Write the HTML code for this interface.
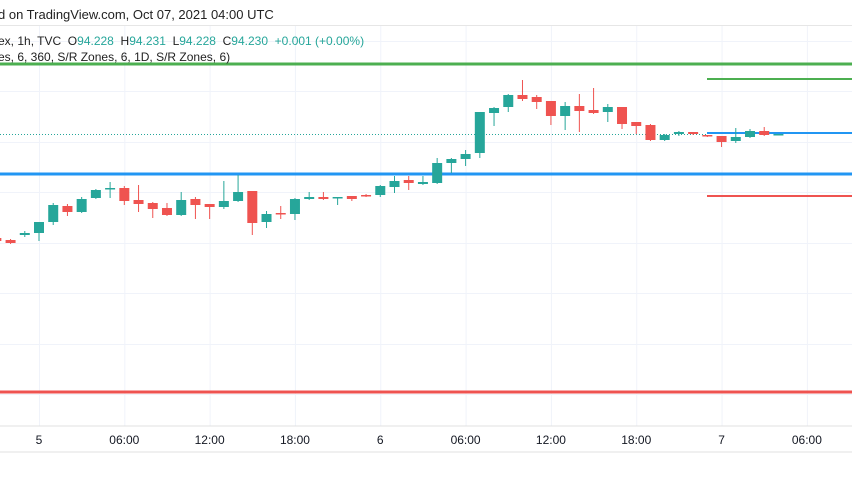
<!DOCTYPE html>
<html><head><meta charset="utf-8"><style>
html,body{margin:0;padding:0;background:#fff;width:852px;height:485px;overflow:hidden;font-family:"Liberation Sans",sans-serif;}
svg{position:absolute;left:0;top:0}
</style></head><body>
<svg id="chart" width="852" height="485" xmlns="http://www.w3.org/2000/svg">
<rect x="0" y="0" width="852" height="485" fill="#fff"/>
<text x="-2" y="19" font-size="13" fill="#222">d on TradingView.com, Oct 07, 2021 04:00 UTC</text>
<line x1="0" y1="25.5" x2="852" y2="25.5" stroke="#e6e6e6"/>
<g id="grid"></g>
<g id="levels"></g>
<g id="candles"></g>
<text x="-2" y="45" font-size="12" fill="#222">ex, 1h, TVC&#160; O<tspan fill="#26a69a">94.228</tspan>&#160; H<tspan fill="#26a69a">94.231</tspan>&#160; L<tspan fill="#26a69a">94.228</tspan>&#160; C<tspan fill="#26a69a">94.230</tspan>&#160; <tspan fill="#26a69a">+0.001 (+0.00%)</tspan></text>
<text x="-2" y="61" font-size="12" fill="#222">es, 6, 360, S/R Zones, 6, 1D, S/R Zones, 6)</text>
<line x1="0" y1="426" x2="852" y2="426" stroke="#e0e0e0"/>
<line x1="0" y1="452" x2="852" y2="452" stroke="#e0e0e0"/>
<g id="xaxis"></g>
</svg>
<script>
const opens  = [262,260,265,267,278,294,288,302,311,312,300,297,292,285,301,296,293,299,309,278,287,286,301,303,302,304,305,305,313,320,316,317,337,341,347,387,393,405,403,399,384,394,390,388,393,378,375,360,366,368,365,364,359,363,369,365];
const closes = [259,257,267,278,295,288,301,310,312,299,296,291,285,300,295,293,299,308,277,286,286,301,303,301,303,301,304,314,319,317,318,337,341,346,388,392,405,401,398,384,394,389,387,393,376,374,360,365,368,366,364,358,363,369,365,366];
const highs  = [263,261,269,278,297,296,303,311,318,314,315,298,297,308,303,296,319,325,309,289,294,302,308,308,303,304,306,315,324,324,324,342,342,350,388,393,406,420,405,399,398,406,412,396,393,378,376,366,369,368,365,364,372,371,373,366];
const lows   = [258,256,263,259,275,284,287,301,302,295,288,282,284,284,281,281,291,298,265,272,281,280,300,300,295,299,303,303,307,310,315,316,327,334,342,374,388,399,391,375,370,368,386,378,371,366,359,359,364,365,363,353,357,362,364,365];
const fullLevels = [{v:436,c:"#4caf50"},{v:326,c:"#2196f3"},{v:108,c:"#ef5350"}];
const shortLevels = [{v:421,c:"#4caf50"},{v:367,c:"#2196f3"},{v:304,c:"#ef5350"}];
const lastPrice = 366;
const tickLabels = ["5","06:00","12:00","18:00","6","06:00","12:00","18:00","7","06:00"];
const tickHours = [0,6,12,18,24,30,36,42,48,54];
const hGridValues = [459,409,358,308,257,207,156,106];

const firstHour = -3, pxPerHour = 14.22, x0 = 39;
const xScale = i => x0 + (i + firstHour) * pxPerHour;
const xHour = h => x0 + h * pxPerHour;
const yScale = v => 500 - v;
const NS = "http://www.w3.org/2000/svg";
function mk(tag, attrs, parent){const e=document.createElementNS(NS,tag);for(const k in attrs)e.setAttribute(k,attrs[k]);parent.appendChild(e);return e;}

const grid = document.getElementById('grid');
hGridValues.forEach(v=>{
  const l = mk('line',{x1:0,x2:852,y1:yScale(v)+0.5,y2:yScale(v)+0.5,stroke:'#f0f3fa'},grid);
  
  
});
tickHours.forEach(h=>{
  const l = mk('line',{x1:xHour(h)+0.5,x2:xHour(h)+0.5,y1:26,y2:426,stroke:'#f0f3fa'},grid);
  
  
});

const xa = document.getElementById('xaxis');
tickLabels.forEach((t,i)=>{
  const e = mk('text',{x:xHour(tickHours[i]),y:444,'font-size':12,'text-anchor':'middle',fill:'#131722'},xa);
  e.textContent = t;
  
  
});

const lv = document.getElementById('levels');
const dl = mk('line',{x1:0,x2:707,y1:yScale(lastPrice)+0.5,y2:yScale(lastPrice)+0.5,stroke:'#26a69a','stroke-width':1,'stroke-dasharray':'1,2'},lv);


fullLevels.forEach(L=>{
  const l = mk('line',{x1:0,x2:852,y1:yScale(L.v),y2:yScale(L.v),stroke:L.c,'stroke-width':3},lv);
  
  
});
shortLevels.forEach(L=>{
  const l = mk('line',{x1:707,x2:852,y1:yScale(L.v),y2:yScale(L.v),stroke:L.c,'stroke-width':2},lv);
  
  
});

const cg = document.getElementById('candles');
opens.forEach((o,i)=>{
  const c = closes[i], up = c >= o, col = up ? '#26a69a' : '#ef5350';
  const x = xScale(i);
  const g = mk('g',{},cg);
  
  
  mk('line',{x1:x,x2:x,y1:yScale(highs[i]),y2:yScale(lows[i]),stroke:col,'stroke-width':1},g);
  const top = yScale(Math.max(o,c)), h = Math.max(1.5, Math.abs(o-c));
  mk('rect',{x:x-5,y:top,width:10,height:h,fill:col},g);
});
</script>
</body></html>
